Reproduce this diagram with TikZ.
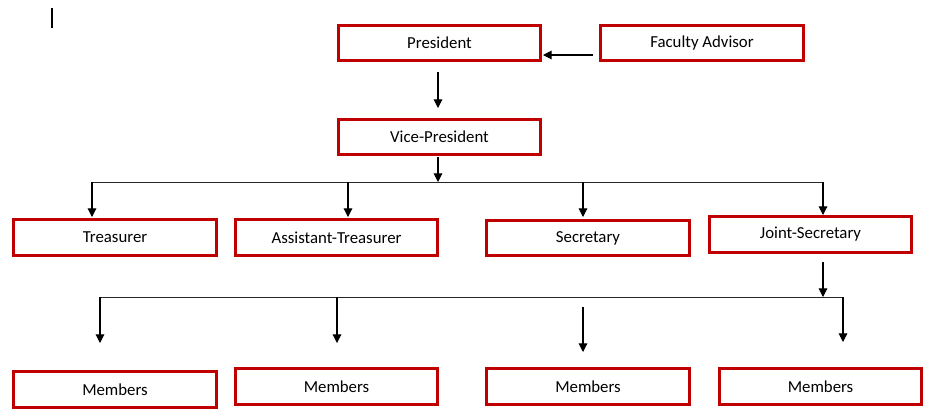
\documentclass[tikz,border=0pt]{standalone}
\usepackage{fontspec}
\setmainfont{Carlito}
\usetikzlibrary{arrows.meta}
\definecolor{boxred}{RGB}{192,0,0}
\begin{document}
\begin{tikzpicture}[x=0.75pt,y=-0.75pt,
  orgbox/.style={draw=boxred,line width=2.3pt,fill=white,minimum width=152pt,minimum height=26.5pt,inner sep=0pt,font=\fontsize{12.6pt}{14pt}\selectfont},
  conn/.style={line width=0.7pt,black!85},
  arr/.style={line width=0.8pt,black,-{Triangle[width=6.5pt,length=6.5pt]}}]
\useasboundingbox (0,0) rectangle (931,419);
% text cursor mark
\coordinate (cur1) at (52,8);
\coordinate (cur2) at (52,28);
\draw[line width=0.9pt] (cur1) -- (cur2);
% boxes
\node[orgbox] (pres) at (439.5,43) {President};
\node[orgbox] (fa) at (702,43) {Faculty Advisor};
\node[orgbox] (vp) at (439.5,137) {Vice-President};
\node[orgbox] (tr) at (115,237.5) {Treasurer};
\node[orgbox] (atr) at (336.5,237.5) {Assistant-Treasurer};
\node[orgbox] (sec) at (588,238) {Secretary};
\node[orgbox] (js) at (810.5,234.5) {Joint-Secretary};
\node[orgbox] (m1) at (115,389.5) {Members};
\node[orgbox] (m2) at (336.5,386.5) {Members};
\node[orgbox] (m3) at (588,386.5) {Members};
\node[orgbox] (m4) at (820.5,386.5) {Members};
% coordinates
\coordinate (faout) at (593,55);
\coordinate (presin) at (543,55);
\coordinate (presout) at (438,72);
\coordinate (vpin) at (438,108);
\coordinate (vpout) at (438,157);
\coordinate (bus1) at (438,182);
\coordinate (bL) at (92,182);
\coordinate (bR) at (823,182);
\coordinate (b2) at (348,182);
\coordinate (b3) at (583,182);
\coordinate (trin) at (92,217);
\coordinate (atrin) at (348,217);
\coordinate (secin) at (583,217);
\coordinate (jsin) at (823,215);
\coordinate (jsout) at (823,262);
\coordinate (bus2) at (823,297);
\coordinate (cL) at (100,297);
\coordinate (cR) at (843,297);
\coordinate (c2) at (337,297);
\coordinate (m1in) at (100,343);
\coordinate (m2in) at (337,343);
\coordinate (m4in) at (843,342);
\coordinate (m3top) at (583,307);
\coordinate (m3in) at (583,352);
% connectors
\draw[conn] (bL) -- (bR);
\draw[conn] (cL) -- (cR);
\draw[arr] (faout) -- (presin);
\draw[arr] (presout) -- (vpin);
\draw[arr] (vpout) -- (bus1);
\draw[arr] (bL) -- (trin);
\draw[arr] (b2) -- (atrin);
\draw[arr] (b3) -- (secin);
\draw[arr] (bR) -- (jsin);
\draw[arr] (jsout) -- (bus2);
\draw[arr] (cL) -- (m1in);
\draw[arr] (c2) -- (m2in);
\draw[arr] (cR) -- (m4in);
\draw[arr] (m3top) -- (m3in);
\end{tikzpicture}
\end{document}
